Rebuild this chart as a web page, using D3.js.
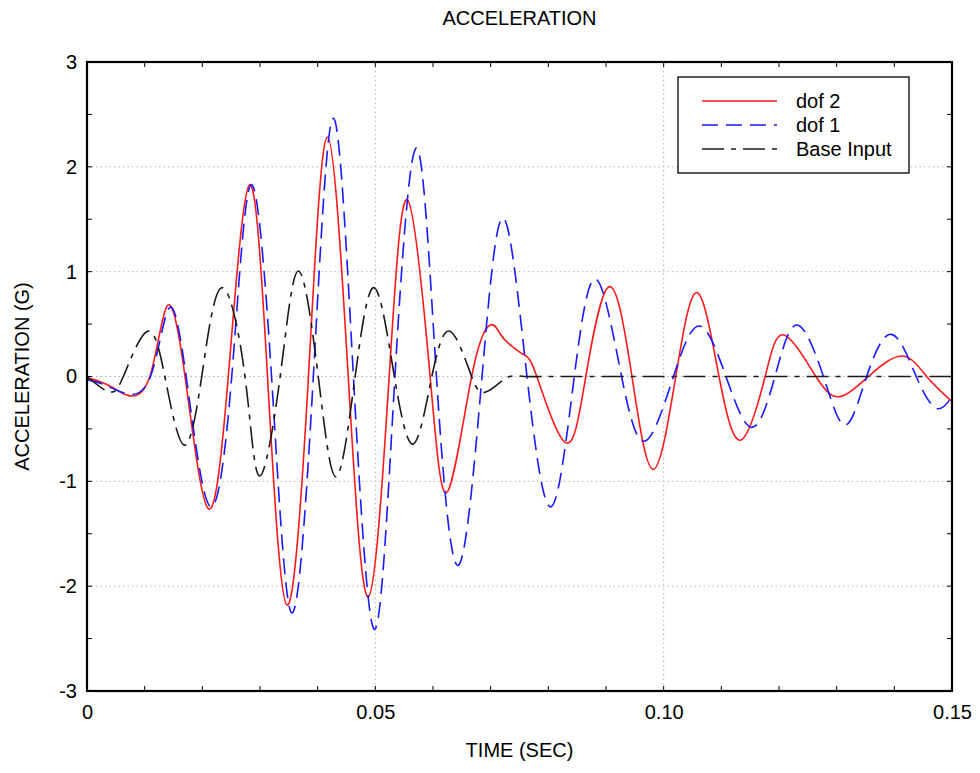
<!DOCTYPE html>
<html>
<head>
<meta charset="utf-8">
<script src="https://cdn.jsdelivr.net/npm/d3@7"></script>
<style>
  html, body { margin: 0; padding: 0; background: #fff; }
  text { font-family: Arial, "Liberation Sans", Helvetica, sans-serif; fill: #000; }
</style>
</head>
<body>
<div id="chart"></div>
<script>
// ---- Data ----
const dof2T = [0, 0.0023, 0.0046, 0.0071, 0.0109, 0.0139, 0.0170, 0.0210, 0.0245, 0.02815, 0.0313, 0.0347, 0.0384, 0.0417, 0.0453, 0.0488, 0.0524, 0.0556, 0.0595, 0.0625, 0.0667, 0.0699, 0.0716, 0.0731, 0.0757, 0.0780, 0.0830, 0.0865, 0.0906, 0.0945, 0.0982, 0.1021, 0.1058, 0.1096, 0.1134, 0.1176, 0.1209, 0.1264, 0.1305, 0.1355, 0.1413, 0.1456, 0.1500];
const dof2V = [-0.01, -0.05, -0.11, -0.18, 0, 0.673, 0, -1.258, 0, 1.827, 0, -2.18, 0, 2.282, 0, -2.10, 0, 1.684, 0, -1.099, 0, 0.491, 0.41, 0.317, 0.21, 0, -0.631, 0, 0.857, 0, -0.886, 0, 0.80, 0, -0.606, 0, 0.396, 0, -0.192, 0, 0.196, 0, -0.24];

const dof1T = [0, 0.0031, 0.0066, 0.0110, 0.0142, 0.0172, 0.0213, 0.0251, 0.0284, 0.0320, 0.0355, 0.03925, 0.0427, 0.0462, 0.0499, 0.0534, 0.0572, 0.0606, 0.0644, 0.0685, 0.0722, 0.0763, 0.0805, 0.0845, 0.0883, 0.0927, 0.0968, 0.1017, 0.1062, 0.1108, 0.1153, 0.1193, 0.1231, 0.1277, 0.1315, 0.1352, 0.1395, 0.1438, 0.1473, 0.1500];
const dof1V = [-0.03, -0.08, -0.16, 0, 0.65, 0, -1.236, 0, 1.827, 0, -2.254, 0, 2.464, 0, -2.412, 0, 2.177, 0, -1.80, 0, 1.51, 0, -1.242, 0, 0.927, 0, -0.615, 0, 0.482, 0, -0.485, 0, 0.491, 0, -0.463, 0, 0.402, 0, -0.304, -0.19];

const baseT = [0, 0.0031, 0.0046, 0.0063, 0.0104, 0.0135, 0.0168, 0.0199, 0.02335, 0.0274, 0.0299, 0.0335, 0.03665, 0.0401, 0.0432, 0.0465, 0.0498, 0.0533, 0.0566, 0.0598, 0.0630, 0.0667, 0.0688, 0.0711, 0.0733, 0.0760, 0.0800, 0.0900, 0.1000, 0.1100, 0.1200, 0.1300, 0.1400, 0.1500];
const baseV = [0, -0.13, -0.145, 0, 0.43, 0, -0.654, 0, 0.847, 0, -0.949, 0, 1.007, 0, -0.956, 0, 0.847, 0, -0.644, 0, 0.43, 0, -0.154, -0.08, 0, 0, 0, 0, 0, 0, 0, 0, 0, 0];

const xTickVals = [0, 0.05, 0.10, 0.15];
const xTickLabels = ["0", "0.05", "0.10", "0.15"];
const yTickVals = [-3, -2, -1, 0, 1, 2, 3];
const yTickLabels = ["-3", "-2", "-1", "0", "1", "2", "3"];
const seriesNames = ["dof 2", "dof 1", "Base Input"];

// ---- Layout ----
const W = 980, H = 773;
const L = 87, R = 952, T = 62, B = 691;

const svg = d3.select("#chart").append("svg")
  .attr("width", W).attr("height", H)
  .style("background", "#fff");

const x = d3.scaleLinear().domain([0, 0.15]).range([L, R]);
const y = d3.scaleLinear().domain([-3, 3]).range([B, T]);

// grid (dotted)
const grid = svg.append("g");
[0.05, 0.10].forEach(v => {
  grid.append("line").attr("x1", x(v)).attr("x2", x(v)).attr("y1", T).attr("y2", B)
    .attr("stroke", "#b4b4b4").attr("stroke-width", 1).attr("stroke-dasharray", "1.5,3");
});
[-2, -1, 0, 1, 2].forEach(v => {
  grid.append("line").attr("x1", L).attr("x2", R).attr("y1", y(v)).attr("y2", y(v))
    .attr("stroke", "#b4b4b4").attr("stroke-width", 1).attr("stroke-dasharray", "1.5,3");
});

// minor ticks (inward) on all sides
const tickLen = 5;
const xMinor = d3.range(0, 0.1501, 0.01);
const yMinor = d3.range(-3, 3.001, 0.5);
const ticks = svg.append("g").attr("stroke", "#000").attr("stroke-width", 1);
xMinor.forEach(v => {
  ticks.append("line").attr("x1", x(v)).attr("x2", x(v)).attr("y1", B).attr("y2", B - tickLen);
  ticks.append("line").attr("x1", x(v)).attr("x2", x(v)).attr("y1", T).attr("y2", T + tickLen);
});
yMinor.forEach(v => {
  ticks.append("line").attr("x1", L).attr("x2", L + tickLen).attr("y1", y(v)).attr("y2", y(v));
  ticks.append("line").attr("x1", R).attr("x2", R - tickLen).attr("y1", y(v)).attr("y2", y(v));
});

// tick labels via axes
const xAxis = d3.axisBottom(x).tickValues(xTickVals)
  .tickFormat((d, i) => xTickLabels[i]).tickSize(0).tickPadding(14);
svg.append("g").attr("transform", `translate(0,${B})`).call(xAxis)
  .call(g => g.select(".domain").remove())
  .selectAll("text").style("font-size", "20px").style("font-family", "Arial, 'Liberation Sans', sans-serif");

const yAxis = d3.axisLeft(y).tickValues(yTickVals)
  .tickFormat((d, i) => yTickLabels[i]).tickSize(0).tickPadding(10);
svg.append("g").attr("transform", `translate(${L},0)`).call(yAxis)
  .call(g => g.select(".domain").remove())
  .selectAll("text").style("font-size", "20px").style("font-family", "Arial, 'Liberation Sans', sans-serif");

// clip for curves
svg.append("clipPath").attr("id", "clip").append("rect")
  .attr("x", L).attr("y", T).attr("width", R - L).attr("height", B - T);

const line = d3.line().x(d => x(d[0])).y(d => y(d[1])).curve(d3.curveNatural);
const zip = (a, b) => a.map((t, i) => [t, b[i]]);

const curves = svg.append("g").attr("clip-path", "url(#clip)");
curves.append("path").datum(zip(dof2T, dof2V)).attr("d", line)
  .attr("fill", "none").attr("stroke", "#ff1a1a").attr("stroke-width", 1.6);
curves.append("path").datum(zip(dof1T, dof1V)).attr("d", line)
  .attr("fill", "none").attr("stroke", "#1a1aff").attr("stroke-width", 1.6)
  .attr("stroke-dasharray", "16,8");
curves.append("path").datum(zip(baseT, baseV)).attr("d", line)
  .attr("fill", "none").attr("stroke", "#1a1a1a").attr("stroke-width", 1.6)
  .attr("stroke-dasharray", "22,7,5,7");

// frame
svg.append("rect").attr("x", L).attr("y", T).attr("width", R - L).attr("height", B - T)
  .attr("fill", "none").attr("stroke", "#000").attr("stroke-width", 2.2);

// legend
const lg = svg.append("g");
lg.append("rect").attr("x", 678).attr("y", 77).attr("width", 231).attr("height", 96)
  .attr("fill", "#fff").attr("stroke", "#000").attr("stroke-width", 1.3);
const legStyles = [
  { c: "#ff1a1a", d: null },
  { c: "#1a1aff", d: "16,8" },
  { c: "#1a1a1a", d: "22,7,5,7" }
];
seriesNames.forEach((n, i) => {
  const yy = 101 + i * 24;
  const ln = lg.append("line").attr("x1", 702).attr("x2", 777).attr("y1", yy).attr("y2", yy)
    .attr("stroke", legStyles[i].c).attr("stroke-width", 1.6);
  if (legStyles[i].d) ln.attr("stroke-dasharray", legStyles[i].d);
  lg.append("text").attr("x", 796).attr("y", yy).attr("dy", "0.36em")
    .style("font-size", "20px").text(n);
});

// titles
svg.append("text").attr("x", (L + R) / 2).attr("y", 25).attr("text-anchor", "middle")
  .style("font-size", "20px").text("ACCELERATION");
svg.append("text").attr("x", (L + R) / 2).attr("y", 757).attr("text-anchor", "middle")
  .style("font-size", "20px").text("TIME (SEC)");
svg.append("text").attr("transform", `translate(29,${(T + B) / 2}) rotate(-90)`)
  .attr("text-anchor", "middle").style("font-size", "20px").text("ACCELERATION (G)");
</script>
</body>
</html>
